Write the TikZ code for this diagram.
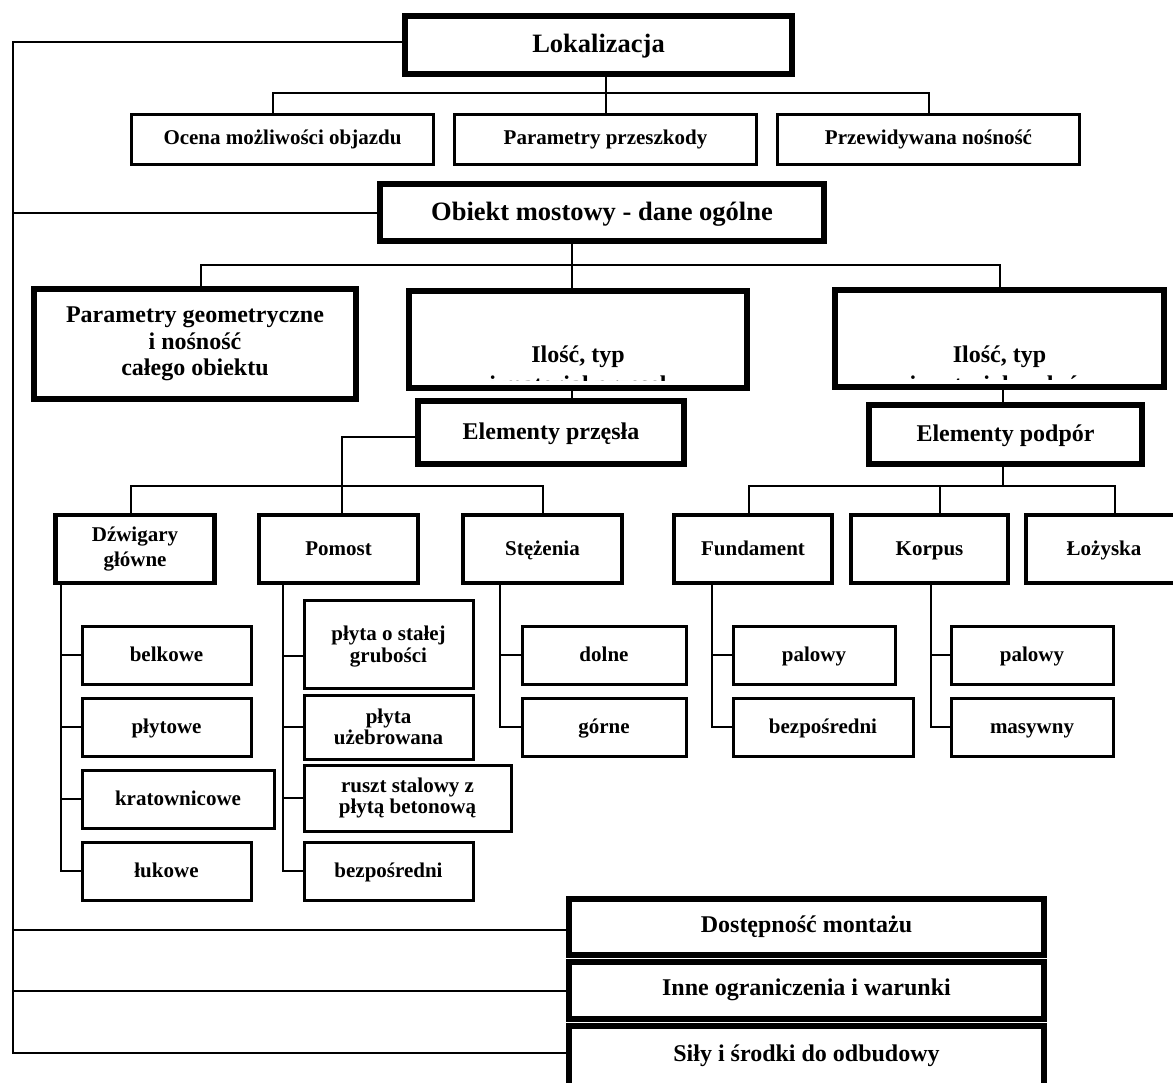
\documentclass[tikz,border=0pt]{standalone}
\usepackage{fontspec}
\setmainfont{Liberation Serif}
\usepackage{tikz}

\begin{document}
\begin{tikzpicture}[x=1pt, y=-1pt, line width=2pt,
	kasten/.style={draw, rectangle, inner sep=0pt, align=center},
	dick/.style={kasten, line width=6pt},
	mittel/.style={kasten, line width=4.5pt},
	duenn/.style={kasten, line width=3pt},
	fgross/.style={font=\fontsize{26.5}{30}\selectfont\bfseries, text height=18.5pt, text depth=2.6pt},
	fmittel/.style={font=\fontsize{24}{26.5}\selectfont\bfseries, text height=16.8pt, text depth=2.4pt},
	funten/.style={font=\fontsize{24}{26.5}\selectfont\bfseries, text height=15.9pt, text depth=5.3pt},
	fklein/.style={font=\fontsize{21}{21.5}\selectfont\bfseries, text height=14.7pt, text depth=2.1pt},
	fzeile/.style={font=\fontsize{21}{21.5}\selectfont\bfseries, text height=13.9pt, text depth=4.6pt},
	zmittel/.style={font=\fontsize{24}{26.5}\selectfont\bfseries},
	zklein/.style={font=\fontsize{21}{21.5}\selectfont\bfseries}]
	\path[use as bounding box, fill=white] (0,0) rectangle (1173,1082); % weisser Rand
	
	% oben
	\node[dick, fgross, minimum width=387, minimum height=58] (lok) at (598.5,45) {Lokalizacja};
	\node[duenn, fzeile, minimum width=302, minimum height=50] (ocena) at (282.5,139.5) {Ocena możliwości objazdu};
	\node[duenn, fzeile, minimum width=302, minimum height=50] (przesz) at (605.5,139.5) {Parametry przeszkody};
	\node[duenn, fzeile, minimum width=302, minimum height=50] (przew) at (928.5,139.5) {Przewidywana nośność};
	\node[dick, fgross, minimum width=444, minimum height=57] (obiekt) at (602,212.5) {Obiekt mostowy - dane ogólne};
	
	\node[dick, zmittel, minimum width=322, minimum height=110] (pgeo) at (195,344) {Parametry geometryczne\\i nośność\\całego obiektu};
	\node[dick, minimum width=338, minimum height=97] (ilp) at (578,339.5) {};
	\node[dick, minimum width=329, minimum height=97] (ilpo) at (999.5,338.5) {};
	\begin{scope} % zweite Zeile abgeschnitten
		\clip (ilp.north west) rectangle ([yshift=11pt]ilp.south east);
		\node[zmittel, anchor=base] (ilpa) at (578,362) {Ilość, typ};
		\node[zmittel, anchor=base] (ilpb) at (578,392) {i materiał przęseł};
	\end{scope}
	\begin{scope}
		\clip (ilpo.north west) rectangle ([yshift=11pt]ilpo.south east);
		\node[zmittel, anchor=base] (ilpoa) at (999.5,362) {Ilość, typ};
		\node[zmittel, anchor=base] (ilpob) at (999.5,392) {i materiał podpór};
	\end{scope}
	\node[dick, fmittel, minimum width=266, minimum height=63] (elp) at (551,432.5) {Elementy przęsła};
	\node[dick, fmittel, minimum width=273, minimum height=59] (elpo) at (1005.5,434.5) {Elementy podpór};
	
	% Elemente
	\node[mittel, font=\fontsize{21}{25}\selectfont\bfseries, minimum width=159, minimum height=68] (dzw) at (135,549) {Dźwigary\\główne};
	\node[mittel, fklein, minimum width=159, minimum height=68] (pomost) at (338.5,549) {Pomost};
	\node[mittel, fklein, minimum width=159, minimum height=68] (stez) at (542.5,549) {Stężenia};
	\node[mittel, fklein, minimum width=158, minimum height=68] (fund) at (753,549) {Fundament};
	\node[mittel, fklein, minimum width=157, minimum height=68] (korp) at (929.5,549) {Korpus};
	\node[mittel, fklein, minimum width=156, minimum height=68] (loz) at (1104,549) {Łożyska};
	
	\node[duenn, fklein, minimum width=169, minimum height=58] (belk) at (166.5,655) {belkowe};
	\node[duenn, fklein, minimum width=169, minimum height=58] (plyt) at (166.5,727) {płytowe};
	\node[duenn, fklein, minimum width=192, minimum height=58] (krat) at (178,799) {kratownicowe};
	\node[duenn, fklein, minimum width=169, minimum height=58] (luk) at (166.5,871) {łukowe};
	
	\node[duenn, zklein, text depth=0pt, minimum width=169, minimum height=88] (pl1) at (388.5,644) {płyta o stałej\\grubości};
	\node[duenn, zklein, minimum width=169, minimum height=64] (pl2) at (388.5,727) {płyta\\użebrowana};
	\node[duenn, zklein, minimum width=207, minimum height=66] (rusz) at (407.5,798) {ruszt stalowy z\\płytą betonową};
	\node[duenn, fklein, minimum width=169, minimum height=58] (bezp1) at (388.5,871) {bezpośredni};
	
	\node[duenn, fklein, minimum width=164, minimum height=58] (doln) at (604,655) {dolne};
	\node[duenn, fklein, minimum width=164, minimum height=58] (gorn) at (604,727) {górne};
	
	\node[duenn, fklein, minimum width=162, minimum height=58] (pal1) at (814,655) {palowy};
	\node[duenn, fklein, minimum width=180, minimum height=58] (bezp2) at (823,727) {bezpośredni};
	\node[duenn, fklein, minimum width=162, minimum height=58] (pal2) at (1032,655) {palowy};
	\node[duenn, fklein, minimum width=162, minimum height=58] (masy) at (1032,727) {masywny};
	
	% unten
	\node[dick, funten, minimum width=475, minimum height=56] (dost) at (806.5,927) {Dostępność montażu};
	\node[dick, funten, minimum width=475, minimum height=57] (inne) at (806.5,990.5) {Inne ograniczenia i warunki};
	\node[dick, funten, minimum width=475, minimum height=60] (sily) at (806.5,1056) {Siły i środki do odbudowy};
	
	% Linien
	\coordinate (rand) at (13,0);
	\coordinate (b1) at (0,93);
	\coordinate (b2) at (0,265);
	\coordinate (b3) at (0,486);
	\coordinate (v1) at ([xshift=-6pt]ilp.north);
	\coordinate (v2) at ([xshift=-2.5pt]elpo.north);
	\coordinate (d1) at ([yshift=-3pt]dost.west);
	\coordinate (s1) at ([yshift=3pt]sily.west);
	
	\draw ([yshift=3pt]lok.west) -| (rand |- s1) -- (s1);
	\draw (obiekt.west) -- (rand |- obiekt.west);
	\draw (d1) -- (rand |- d1);
	\draw (inne.west) -- (rand |- inne.west);
	
	\draw ([xshift=-10pt]ocena.north) |- (b1 -| przew.north) -- (przew.north);
	\draw (lok.south -| przesz.north) -- (przesz.north);
	
	\draw ([xshift=6pt]pgeo.north) |- (b2 -| ilpo.north) -- (ilpo.north);
	\draw (v1 |- obiekt.south) -- (v1);
	\draw (v1 |- ilp.south) -- (v1 |- elp.north);
	\draw (v2 |- ilpo.south) -- (v2);
	
	\draw ([yshift=-4.5pt]elp.west) -| ([xshift=3.5pt]pomost.north);
	\draw ([xshift=-4pt]dzw.north) |- (b3 -| stez.north) -- (stez.north);
	\draw (v2 |- elpo.south) -- (v2 |- b3);
	\draw ([xshift=-4pt]fund.north) |- ([xshift=11pt]b3 -| loz.north) -- ([xshift=11pt]loz.north);
	\draw ([xshift=10.5pt]korp.north) -- ([xshift=10.5pt]korp.north |- b3);
	
	\draw ([xshift=-74pt]dzw.south) |- (luk.west);
	\draw (belk.west) -- ++(-21,0);
	\draw (plyt.west) -- ++(-21,0);
	\draw (krat.west) -- ++(-21,0);
	
	\draw ([xshift=-55.5pt]pomost.south) |- (bezp1.west);
	\draw ([yshift=-12pt]pl1.west) -- ++(-21,0);
	\draw (pl2.west) -- ++(-21,0);
	\draw (rusz.west) -- ++(-21,0);
	
	\draw ([xshift=-42.5pt]stez.south) |- (gorn.west);
	\draw (doln.west) -- ++(-22,0);
	
	\draw ([xshift=-41pt]fund.south) |- (bezp2.west);
	\draw (pal1.west) -- ++(-21,0);
	
	\draw ([xshift=1.5pt]korp.south) |- (masy.west);
	\draw (pal2.west) -- ++(-20,0);
\end{tikzpicture}
\end{document}
